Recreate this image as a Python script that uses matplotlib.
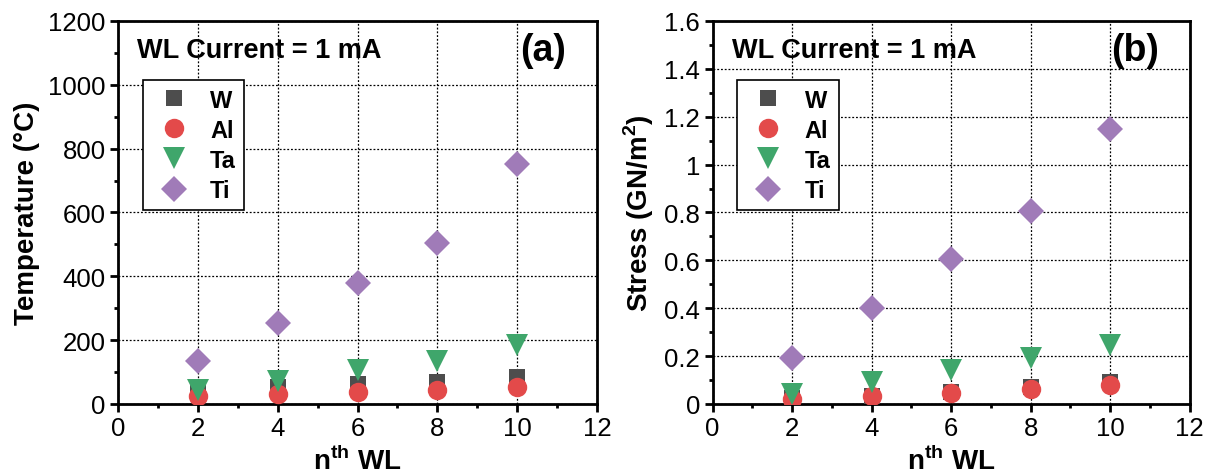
import matplotlib
matplotlib.use('Agg')
import matplotlib.pyplot as plt
from matplotlib.ticker import MultipleLocator

plt.rcParams['font.family'] = ['Liberation Sans', 'DejaVu Sans']
plt.rcParams['mathtext.fontset'] = 'custom'
plt.rcParams['mathtext.bf'] = 'Liberation Sans:bold'
plt.rcParams['mathtext.rm'] = 'Liberation Sans'

wl = [2, 4, 6, 8, 10]
materials = ['W', 'Al', 'Ta', 'Ti']

temp_W = [40, 53, 62, 69, 85]
temp_Al = [25, 31, 38, 44, 53]
temp_Ta = [45, 72, 105, 135, 185]
temp_Ti = [135, 255, 378, 505, 752]

stress_W = [0.025, 0.035, 0.05, 0.07, 0.09]
stress_Al = [0.02, 0.033, 0.046, 0.063, 0.08]
stress_Ta = [0.04, 0.09, 0.14, 0.19, 0.245]
stress_Ti = [0.19, 0.40, 0.605, 0.805, 1.15]

colors = {'W': '#4d4d4d', 'Al': '#e34a4a', 'Ta': '#3fa66b', 'Ti': '#a07bb8'}
markers = {'W': 's', 'Al': 'o', 'Ta': 'v', 'Ti': 'D'}
sizes = {'W': 12, 'Al': 14, 'Ta': 16, 'Ti': 13}

fig = plt.figure(figsize=(12.14, 4.77), dpi=100)
ax1 = fig.add_axes([0.0972, 0.151, 0.3946, 0.803])
ax2 = fig.add_axes([0.587, 0.151, 0.393, 0.803])


def draw(ax, series, ylim, ymajor, yminor, ylabel, tag):
    for name, vals in zip(materials, series):
        ax.plot(wl, vals, linestyle='none', marker=markers[name], color=colors[name],
                markersize=sizes[name], markeredgewidth=0, label=name, zorder=3)
    ax.set_xlim(0, 12)
    ax.set_ylim(*ylim)
    ax.xaxis.set_major_locator(MultipleLocator(2))
    ax.xaxis.set_minor_locator(MultipleLocator(1))
    ax.yaxis.set_major_locator(MultipleLocator(ymajor))
    ax.yaxis.set_minor_locator(MultipleLocator(yminor))
    ax.grid(True, which='major', linestyle=(0, (1.5, 1.5)), color='black', linewidth=0.9)
    ax.set_axisbelow(True)
    for s in ax.spines.values():
        s.set_linewidth(2)
    ax.tick_params(which='major', direction='out', length=6, width=2, labelsize=18.5, pad=3)
    ax.tick_params(which='minor', direction='out', length=3, width=2)
    ax.set_xlabel(r'n$^{\mathbf{th}}$ WL', fontsize=20, fontweight='bold', labelpad=4)
    ax.set_ylabel(ylabel, fontsize=20, fontweight='bold', labelpad=6)
    ax.text(0.04, 0.925, 'WL Current = 1 mA', transform=ax.transAxes, fontsize=19.5,
            fontweight='bold', va='center', ha='left')
    ax.text(0.935, 0.925, tag, transform=ax.transAxes, fontsize=27,
            fontweight='bold', va='center', ha='right')
    leg = ax.legend(loc='upper left', bbox_to_anchor=(0.052, 0.845), prop={'weight': 'bold', 'size': 17},
                    fancybox=False, framealpha=1, edgecolor='black', handletextpad=0.6,
                    labelspacing=0.3, borderpad=0.35, handlelength=1.9, borderaxespad=0)
    leg.get_frame().set_linewidth(1.2)


draw(ax1, [temp_W, temp_Al, temp_Ta, temp_Ti], (0, 1200), 200, 100, 'Temperature (°C)', '(a)')
draw(ax2, [stress_W, stress_Al, stress_Ta, stress_Ti], (0, 1.6), 0.2, 0.1,
     r'Stress (GN/m$^{\mathbf{2}}$)', '(b)')
ax2.yaxis.set_major_formatter(plt.FuncFormatter(lambda v, p: f'{v:g}'))

fig.savefig('out.png', dpi=100)
